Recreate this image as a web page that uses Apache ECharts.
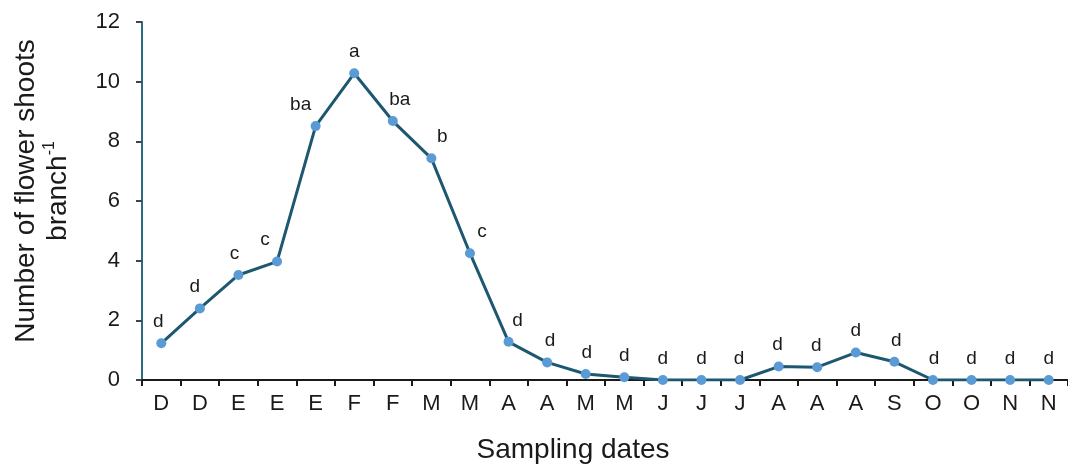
<!DOCTYPE html>
<html>
<head>
<meta charset="utf-8">
<title>Flower shoots per branch</title>
<script src="https://cdn.jsdelivr.net/npm/echarts@6/dist/echarts.min.js"></script>
<style>
  html, body { margin: 0; padding: 0; background: #ffffff; }
  #chart { width: 1068px; height: 473px; }
</style>
</head>
<body>
<div id="chart"></div>
<script>
// Sampling dates (month initials) and mean flower shoots per branch
const months = ['D', 'D', 'E', 'E', 'E', 'F', 'F', 'M', 'M', 'A', 'A', 'M',
                'M', 'J', 'J', 'J', 'A', 'A', 'A', 'S', 'O', 'O', 'N', 'N'];
const shoots = [1.23, 2.40, 3.52, 3.97, 8.51, 10.28, 8.68, 7.43, 4.25, 1.28, 0.59, 0.20,
                0.09, 0.00, 0.00, 0.00, 0.45, 0.43, 0.92, 0.61, 0.00, 0.00, 0.00, 0.00];
// Mean separation letters
const letters = ['d', 'd', 'c', 'c', 'ba', 'a', 'ba', 'b', 'c', 'd', 'd', 'd',
                 'd', 'd', 'd', 'd', 'd', 'd', 'd', 'd', 'd', 'd', 'd', 'd'];
const yTicks = [0, 2, 4, 6, 8, 10, 12];

const FONT = '"Liberation Sans", Arial, Helvetica, sans-serif';
const TEXT = '#1a1a1a';

// Nudge each letter sideways, away from the direction the line travels
const points = shoots.map(function (v, i) {
  const prev = i > 0 ? shoots[i - 1] : v;
  const next = i < shoots.length - 1 ? shoots[i + 1] : v;
  const dx = Math.max(-16, Math.min(12, -(next - prev) * 2.4));
  return {
    value: v,
    label: { offset: [Math.round(dx), 0] }
  };
});

const chart = echarts.init(document.getElementById('chart'), null, { renderer: 'canvas' });

chart.setOption({
  animation: false,
  backgroundColor: '#ffffff',
  grid: { left: 142, top: 22, bottom: 93, right: -8, containLabel: false },
  xAxis: {
    type: 'category',
    data: months,
    boundaryGap: true,
    name: 'Sampling dates',
    nameLocation: 'middle',
    nameGap: 56,
    nameTextStyle: { fontFamily: FONT, fontSize: 28, color: TEXT, padding: [0, 64, 0, 0] },
    axisLine: { show: true, lineStyle: { color: '#1a1a1a', width: 2 } },
    axisTick: { show: true, length: 6, interval: 0, lineStyle: { color: '#1a1a1a', width: 2 } },
    axisLabel: { interval: 0, margin: 13, fontFamily: FONT, fontSize: 22, color: TEXT },
    splitLine: { show: false }
  },
  yAxis: {
    type: 'value',
    min: yTicks[0],
    max: yTicks[yTicks.length - 1],
    interval: yTicks[1] - yTicks[0],
    name: '{n|Number of flower shoots}\n{n|branch}{s|-1}',
    nameLocation: 'middle',
    nameRotate: 90,
    nameGap: 68,
    nameTextStyle: {
      fontFamily: FONT,
      color: TEXT,
      padding: [0, 0, 0, 20],
      rich: {
        n: { fontFamily: FONT, fontSize: 28, lineHeight: 32, color: TEXT },
        s: { fontFamily: FONT, fontSize: 16, lineHeight: 15, verticalAlign: 'top', color: TEXT }
      }
    },
    axisLine: { show: true, lineStyle: { color: '#2b6a80', width: 2 } },
    axisTick: { show: true, length: 6, lineStyle: { color: '#444444', width: 2 } },
    axisLabel: { margin: 22, fontFamily: FONT, fontSize: 22, color: TEXT },
    splitLine: { show: false }
  },
  series: [{
    type: 'line',
    data: points,
    symbol: 'circle',
    symbolSize: 10,
    lineStyle: { color: '#1d5870', width: 3 },
    itemStyle: { color: '#5b9bd5', borderWidth: 0 },
    label: {
      show: true,
      position: 'top',
      distance: 7,
      fontFamily: FONT,
      fontSize: 19,
      color: TEXT,
      formatter: function (p) { return letters[p.dataIndex]; }
    },
    z: 3
  }]
});
</script>
</body>
</html>
